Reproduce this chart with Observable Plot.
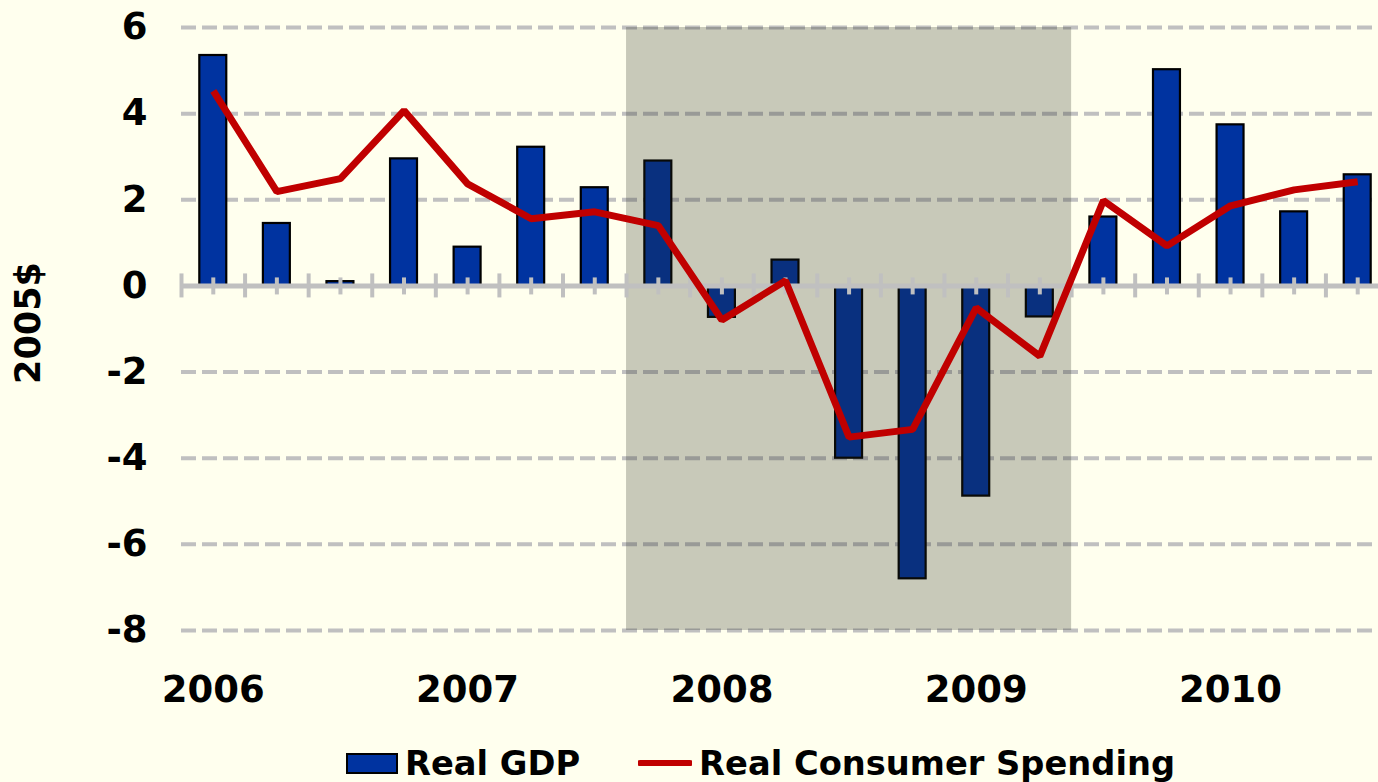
<!DOCTYPE html>
<html><head><meta charset="utf-8">
<script src="https://cdn.jsdelivr.net/npm/d3@7"></script>
<script src="https://cdn.jsdelivr.net/npm/@observablehq/plot@0.6"></script>
<style>
html,body{margin:0;padding:0;background:#ffffee;}
#chart{width:1378px;height:782px;overflow:hidden;position:relative;background:#ffffee;}
.legend{position:absolute;left:346px;top:740px;height:46px;display:flex;align-items:center;font-family:"DejaVu Sans",Verdana,sans-serif;font-weight:bold;font-size:33.7px;color:#000;white-space:nowrap;}
.legend svg{display:block;}
</style></head><body><div id="chart"></div>
<script>
const quarters = ["2006Q1","2006Q2","2006Q3","2006Q4","2007Q1","2007Q2","2007Q3","2007Q4",
  "2008Q1","2008Q2","2008Q3","2008Q4","2009Q1","2009Q2","2009Q3","2009Q4","2010Q1","2010Q2","2010Q3"];
const realGDP = [5.35,1.45,0.1,2.95,0.9,3.22,2.28,2.9,-0.73,0.6,-4.0,-6.8,-4.88,-0.72,1.6,5.02,3.74,1.72,2.58];
const realConsumerSpending = [4.53,2.19,2.49,4.07,2.37,1.56,1.72,1.4,-0.79,0.12,-3.51,-3.33,-0.51,-1.63,1.98,0.93,1.86,2.23,2.42];
const yTicks = [6,4,2,0,-2,-4,-6,-8];
const recession = ["2007Q4","2009Q2"];
const seriesNames = ["Real GDP","Real Consumer Spending"];
const yLabel = "2005$";

const rows = quarters.map((q,i)=>({q, i, gdp: realGDP[i], pce: realConsumerSpending[i]}));
const yearIdx = quarters.map((q,i)=>i).filter(i=>quarters[i].endsWith("Q1"));
const boundaries = d3.range(quarters.length + 1).map(i=>i-0.5);
const recStart = quarters.indexOf(recession[0]) - 0.5;
const recEnd = quarters.indexOf(recession[1]) + 0.5;

const W = 1378, H = 740, mL = 181, mT = 27, mB = 110;
const yMin = -8, yMax = 6;
const pxPerUnit = (H - mB - mT) / (yMax - yMin);
const halfBar = 0.212;
const gray = "#c0c0c0";

const plot = Plot.plot({
  width: W, height: H,
  marginLeft: mL, marginRight: -11, marginTop: mT, marginBottom: mB,
  style: {background:"#ffffee", fontFamily:'"DejaVu Sans", Verdana, sans-serif', fontWeight:"bold", fontSize:"36px", color:"#000", overflow:"hidden"},
  x: {domain:[-0.5, quarters.length-0.5], range:[mL, W+11]},
  y: {domain:[yMin, yMax], range:[H-mB, mT]},
  marks: [
    Plot.ruleY(yTicks.filter(v=>v!==0), {stroke:gray, strokeWidth:4, strokeDasharray:"15,6"}),
    Plot.rectY(rows, {x1: d=>d.i-halfBar, x2: d=>d.i+halfBar, y1: 0, y2: "gdp", fill:"#0033a0", stroke:"#000", strokeWidth:2.2}),
    Plot.rect([{a:recStart, b:recEnd}], {x1:"a", x2:"b", y1:yMin, y2:yMax, fill:"rgb(35,39,26)", fillOpacity:0.25}),
    Plot.ruleY([0], {stroke:gray, strokeWidth:5}),
    Plot.ruleX(boundaries, {y1: -12/pxPerUnit, y2: 12/pxPerUnit, stroke:gray, strokeWidth:4}),
    Plot.ruleX(rows.map(d=>d.i), {y1: -9/pxPerUnit, y2: 8/pxPerUnit, stroke:gray, strokeWidth:4}),
    Plot.line(rows, {x:"i", y:"pce", stroke:"#c00000", strokeWidth:7, strokeLinejoin:"miter", strokeLinecap:"butt"}),
    Plot.axisY(yTicks, {tickSize:0, tickPadding:34, label:null, fontSize:37, tickFormat: d=>String(d)}),
    Plot.axisX(yearIdx, {tickSize:0, tickPadding:45, label:null, tickFormat: i=>quarters[i].slice(0,4), fontSize:37}),
    Plot.text([yLabel], {frameAnchor:"left", rotate:-90, dx:-153, dy:-6, fontSize:35, textAnchor:"middle", lineAnchor:"middle"})
  ]
});
const chart = document.getElementById("chart");
chart.appendChild(plot);

const legend = document.createElement("div");
legend.className = "legend";
legend.innerHTML =
  `<svg width="52" height="21"><rect x="1" y="1" width="50" height="19" fill="#0033a0" stroke="#000" stroke-width="2"/></svg>` +
  `<span style="margin-left:7px">${seriesNames[0]}</span>` +
  `<svg width="54" height="10" style="margin-left:58px"><line x1="2" y1="5" x2="52" y2="5" stroke="#c00000" stroke-width="6" stroke-linecap="round"/></svg>` +
  `<span style="margin-left:7px">${seriesNames[1]}</span>`;
chart.appendChild(legend);
</script>
</body></html>
